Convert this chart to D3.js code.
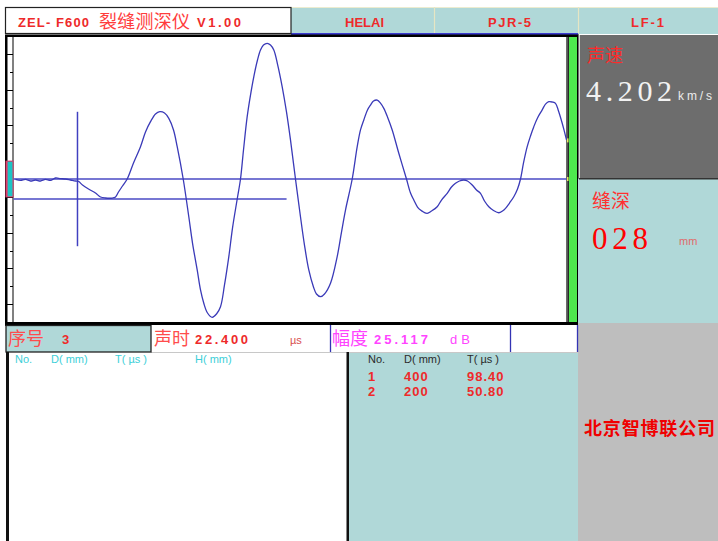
<!DOCTYPE html>
<html>
<head>
<meta charset="utf-8">
<script src="https://cdn.jsdelivr.net/npm/d3@7/dist/d3.min.js"></script>
<style>
  html, body { margin: 0; padding: 0; background: #ffffff; }
  svg { display: block; }
  text { font-family: "Liberation Sans", Arial, sans-serif; }
  text.cjk { font-family: "Noto Sans CJK SC", sans-serif; }
  text.serif { font-family: "Liberation Serif", "DejaVu Serif", serif; }
</style>
</head>
<body>
<svg id="scr" width="718" height="541"></svg>
<script>
// ---- received waveform (time in µs, amplitude in % of full scale) ----
const waveT = [0.70, 2.45, 4.20, 5.95, 7.70, 9.45, 11.20, 12.95, 14.70, 16.45, 18.20, 19.96, 21.71, 22.76,
  24.16, 26.26, 28.71, 30.46, 32.21, 34.66, 35.71, 36.76, 38.16, 39.80, 42.01, 44.46, 46.21, 47.96,
  49.71, 51.22, 52.87, 54.37, 56.02, 57.31, 59.41, 61.37, 62.67, 64.31, 65.47, 66.62, 67.92, 69.56,
  71.07, 72.47, 73.87, 75.38, 76.67, 78.32, 79.47, 80.52, 81.81, 82.97, 84.12, 85.42, 86.47, 87.52,
  88.82, 89.97, 91.13, 92.42, 94.07, 95.57, 96.97, 98.72, 100.47, 101.87, 103.38, 105.02, 106.07,
  107.48, 108.88, 110.98, 113.32, 114.83, 116.23, 118.58, 120.33, 121.48, 122.64, 123.93, 124.98,
  126.03, 127.33, 128.48, 129.64, 130.93, 132.58, 134.89, 137.58, 138.99, 140.14, 141.44, 142.49,
  143.54, 144.83, 146.34, 148.33, 149.84, 151.83, 153.34, 154.74, 156.14, 157.65, 158.94, 160.59,
  162.09, 163.49, 164.89, 166.40, 168.05, 169.90, 171.20, 172.25, 173.65, 175.15, 176.45, 177.50,
  178.55, 179.84, 181.00, 182.15, 183.45, 185.09, 186.25, 187.40, 188.70, 189.75, 190.80, 192.10,
  192.90, 193.60];
const waveA = [-0.3, -1.0, -0.3, -1.4, -0.7, -1.4, -0.3, -1.0, 0.7, 0.3, 0.0, -0.7, -1.4, -1.7,
  -4.2, -7.0, -9.8, -12.6, -13.3, -13.3, -12.6, -9.1, -4.9, 0.0, 11.2, 22.6, 32.9, 40.1,
  45.5, 47.1, 46.2, 42.4, 34.3, 22.6, 0.0, -26.4, -44.8, -63.6, -77.6, -86.9, -93.7, -96.7,
  -94.4, -89.3, -74.1, -54.3, -34.3, -14.0, 0.0, 20.3, 43.6, 58.7, 71.5, 83.2, 90.2, 93.7,
  94.9, 93.7, 90.2, 80.4, 64.5, 46.9, 27.3, 0.0, -26.4, -46.2, -63.6, -75.5, -80.4,
  -82.3, -80.4, -72.9, -54.3, -37.1, -21.7, 0.0, 22.6, 34.3, 41.3, 48.3, 51.7,
  54.5, 55.2, 53.1, 49.4, 43.4, 34.3, 18.0, 0.0, -9.8, -14.7, -19.6, -21.7,
  -23.1, -24.0, -22.4, -19.4, -14.7, -10.0, -5.6, -3.0, -1.4, -0.7, -1.4, -4.2,
  -7.7, -10.0, -15.4, -19.4, -22.0, -23.6, -22.4, -20.5, -16.8, -12.4, -7.0, 0.0,
  11.2, 22.6, 30.1, 36.6, 42.7, 48.3, 52.4, 54.1, 53.8, 52.9, 47.6, 39.0,
  32.9, 27.3];

// ---- screen readings ----
const timeSpan = [0, 193.6];        // µs across the trace window
const ampSpan = [-100, 100];        // % full scale
const ampTickStep = 12.5;
const cursorTime = 22.4;            // µs, first-arrival cursor
const cursorHalfHeight = 47;        // % full scale
const thresholdAmp = -14;           // trigger threshold
const thresholdEnd = 95.6;          // µs
const gateAmp = 12.5;               // gain marker half-width

const headerCells = ["HELAI", "PJR-5", "LF-1"];
const titleModel = "ZEL- F600";
const titleName = "裂缝测深仪";
const titleVersion = "V1.00";

const velocityLabel = "声速", velocityValue = "4.202", velocityUnit = "km/s";
const depthLabel = "缝深", depthValue = "028", depthUnit = "mm";

const recordLabel = "序号", recordNo = "3";
const timeLabel = "声时", timeValue = "22.400", timeUnit = "µs";
const ampLabel = "幅度", ampValue = "25.117", ampUnit = "dB";

const resultHeads = ["No.", "D( mm)", "T( µs )", "H( mm)"];
const calibHeads = ["No.", "D( mm)", "T( µs )"];
const calibNo = ["1", "2"];
const calibD = ["400", "200"];
const calibT = ["98.40", "50.80"];
const company = "北京智博联公司";

// ---- palette ----
const TEAL = "#b0d8d8", DARK = "#6d6d6d", LIGHT = "#bebebe";
const RED = "#ee2a2a", MAGENTA = "#ff44ff", BLUE = "#3a3ab8";

const svg = d3.select("#scr");
svg.append("rect").attr("width", 718).attr("height", 541).attr("fill", "#fff");

// ---------- title bar ----------
const bar = svg.append("g");
bar.append("rect").attr("x", 291).attr("y", 7).attr("width", 427).attr("height", 27).attr("fill", TEAL);
bar.append("line").attr("x1", 291).attr("x2", 718).attr("y1", 7.5).attr("y2", 7.5).attr("stroke", "#ececd0");
[434.5, 578.5].forEach(x => bar.append("line").attr("x1", x).attr("x2", x).attr("y1", 7).attr("y2", 33)
  .attr("stroke", "#e6e6c4").attr("stroke-width", 1.2));
bar.append("rect").attr("x", 291).attr("y", 33).attr("width", 287).attr("height", 2).attr("fill", "#3a3ad0");
bar.append("rect").attr("x", 5.5).attr("y", 7.5).attr("width", 285.5).attr("height", 26)
  .attr("fill", "#fff").attr("stroke", "#222").attr("stroke-width", 1.2);

const cellCenters = [364.5, 509.5, 647.5];
const cellWidths = [39, 43, 33];
headerCells.forEach((c, i) => {
  bar.append("text").attr("x", cellCenters[i]).attr("y", 26.5).attr("text-anchor", "middle")
    .attr("font-size", 13).attr("font-weight", "bold").attr("fill", RED)
    .attr("textLength", cellWidths[i]).attr("lengthAdjust", "spacing").text(c);
});
bar.append("text").attr("x", 18).attr("y", 26.5).attr("font-size", 13).attr("font-weight", "bold")
  .attr("fill", RED).attr("textLength", 71).attr("lengthAdjust", "spacing").text(titleModel);
bar.append("text").attr("class", "cjk").attr("x", 99).attr("y", 28).attr("font-size", 18)
  .attr("fill", "#ff3c3c").attr("textLength", 91).attr("lengthAdjust", "spacing").text(titleName);
bar.append("text").attr("x", 197).attr("y", 26.5).attr("font-size", 13).attr("font-weight", "bold")
  .attr("fill", RED).attr("textLength", 44).attr("lengthAdjust", "spacing").text(titleVersion);

// ---------- trace window ----------
const plot = { left: 13.5, right: 566.5, top: 36, bottom: 322 };
const x = d3.scaleLinear().domain(timeSpan).range([plot.left, plot.right]);
const y = d3.scaleLinear().domain(ampSpan).range([plot.bottom, plot.top]);

svg.append("rect").attr("x", 5).attr("y", 34.5).attr("width", 574).attr("height", 291.5).attr("fill", "#000");
svg.append("rect").attr("x", 7.5).attr("y", 37).attr("width", 5).attr("height", 285).attr("fill", "#fff");
svg.append("rect").attr("x", plot.left).attr("y", 37).attr("width", plot.right - plot.left).attr("height", 285).attr("fill", "#fff");
svg.append("rect").attr("x", 566.5).attr("y", 37).attr("width", 2).attr("height", 285).attr("fill", "#555");
svg.append("rect").attr("x", 569).attr("y", 37).attr("width", 8).attr("height", 285).attr("fill", "#4ee84e");

// amplitude ruler ticks, alternating long and short
const ampTicks = d3.range(ampSpan[0] + ampTickStep, ampSpan[1], ampTickStep);
svg.append("g").selectAll("line").data(ampTicks).join("line")
  .attr("x1", (d, i) => (i % 2 === 0 ? 7 : 10))
  .attr("x2", 13)
  .attr("y1", d => Math.round(y(d)) + 0.5).attr("y2", d => Math.round(y(d)) + 0.5)
  .attr("stroke", "#000").attr("stroke-width", 1);

// gain marker on the ruler
svg.append("rect").attr("x", 6).attr("y", y(gateAmp)).attr("width", 7).attr("height", y(-gateAmp) - y(gateAmp))
  .attr("fill", "#1cc4c4").attr("stroke", "#e03a6a").attr("stroke-width", 1);
svg.append("rect").attr("x", 6).attr("y", y(gateAmp)).attr("width", 1.6).attr("height", y(-gateAmp) - y(gateAmp))
  .attr("fill", "#e03a6a");

// zero line, threshold line and arrival cursor
svg.append("line").attr("x1", x(timeSpan[0])).attr("x2", x(timeSpan[1]))
  .attr("y1", y(0)).attr("y2", y(0)).attr("stroke", "#4a4ac4").attr("stroke-width", 1.5);
svg.append("line").attr("x1", x(timeSpan[0])).attr("x2", x(thresholdEnd))
  .attr("y1", y(thresholdAmp)).attr("y2", y(thresholdAmp)).attr("stroke", "#4a4ac4").attr("stroke-width", 1.5);
svg.append("line").attr("x1", x(cursorTime)).attr("x2", x(cursorTime))
  .attr("y1", y(cursorHalfHeight)).attr("y2", y(-cursorHalfHeight)).attr("stroke", "#4040c0").attr("stroke-width", 1.5);

// the waveform
const wave = waveT.map((t, i) => [t, waveA[i]]);
svg.append("path").datum(wave)
  .attr("d", d3.line().x(d => x(d[0])).y(d => y(d[1])).curve(d3.curveCatmullRom.alpha(0.5)))
  .attr("fill", "none").attr("stroke", BLUE).attr("stroke-width", 1.3);

// end-of-window markers
[y(0), y(27)].forEach(v => svg.append("rect").attr("x", 567).attr("y", v - 2).attr("width", 1.5).attr("height", 4).attr("fill", "#e8e860"));

// ---------- right readouts ----------
svg.append("rect").attr("x", 578).attr("y", 35).attr("width", 140).attr("height", 143.5).attr("fill", DARK);
svg.append("line").attr("x1", 579.5).attr("x2", 579.5).attr("y1", 35).attr("y2", 178).attr("stroke", "#d4d4d4");
svg.append("rect").attr("x", 578).attr("y", 178.5).attr("width", 140).attr("height", 145).attr("fill", TEAL);
svg.append("line").attr("x1", 579).attr("x2", 718).attr("y1", 178.8).attr("y2", 178.8).attr("stroke", "#333").attr("stroke-width", 1.4);
svg.append("rect").attr("x", 578).attr("y", 323).attr("width", 140).attr("height", 218).attr("fill", LIGHT);

svg.append("text").attr("class", "cjk").attr("x", 587).attr("y", 62).attr("font-size", 18)
  .attr("fill", "#ff2a2a").text(velocityLabel);
svg.append("text").attr("class", "serif").attr("x", 586).attr("y", 100.5).attr("font-size", 30)
  .attr("fill", "#f2f2f2")
  .attr("textLength", 86).attr("lengthAdjust", "spacing").text(velocityValue);
svg.append("text").attr("x", 678).attr("y", 100).attr("font-size", 12).attr("fill", "#ececec")
  .attr("textLength", 34).attr("lengthAdjust", "spacing").text(velocityUnit);

svg.append("text").attr("class", "cjk").attr("x", 592).attr("y", 208).attr("font-size", 19)
  .attr("fill", "#ff3030").text(depthLabel);
svg.append("text").attr("class", "serif").attr("x", 592).attr("y", 248.5).attr("font-size", 31)
  .attr("fill", "#ff0000")
  .attr("textLength", 56).attr("lengthAdjust", "spacing").text(depthValue);
svg.append("text").attr("x", 679).attr("y", 245).attr("font-size", 11).attr("fill", "#e06a6a").text(depthUnit);

// ---------- status row ----------
svg.append("rect").attr("x", 151).attr("y", 325).attr("width", 427).attr("height", 27).attr("fill", "#fff");
svg.append("line").attr("x1", 151).attr("x2", 578).attr("y1", 352.5).attr("y2", 352.5).attr("stroke", "#c8c8c8");
[330.5, 510.5, 577.5].forEach(v => svg.append("line").attr("x1", v).attr("x2", v).attr("y1", 325).attr("y2", 352)
  .attr("stroke", "#3434b4").attr("stroke-width", 1.3));
svg.append("rect").attr("x", 6).attr("y", 325.5).attr("width", 145).attr("height", 26.5)
  .attr("fill", TEAL).attr("stroke", "#222").attr("stroke-width", 1.3);

svg.append("text").attr("class", "cjk").attr("x", 8).attr("y", 345).attr("font-size", 18).attr("fill", "#ff4c4c").text(recordLabel);
svg.append("text").attr("x", 62).attr("y", 344).attr("font-size", 13).attr("font-weight", "bold").attr("fill", RED).text(recordNo);
svg.append("text").attr("class", "cjk").attr("x", 154).attr("y", 345).attr("font-size", 18).attr("fill", "#ff4c4c").text(timeLabel);
svg.append("text").attr("x", 195).attr("y", 344).attr("font-size", 13).attr("font-weight", "bold").attr("fill", RED)
  .attr("textLength", 53).attr("lengthAdjust", "spacing").text(timeValue);
svg.append("text").attr("x", 290).attr("y", 344).attr("font-size", 11).attr("fill", "#d85050").text(timeUnit);
svg.append("text").attr("class", "cjk").attr("x", 332).attr("y", 345).attr("font-size", 18).attr("fill", MAGENTA).text(ampLabel);
svg.append("text").attr("x", 374).attr("y", 344).attr("font-size", 13).attr("font-weight", "bold").attr("fill", MAGENTA)
  .attr("textLength", 54).attr("lengthAdjust", "spacing").text(ampValue);
svg.append("text").attr("x", 450).attr("y", 344).attr("font-size", 13).attr("fill", MAGENTA)
  .attr("textLength", 20).attr("lengthAdjust", "spacing").text(ampUnit);

// ---------- result tables ----------
svg.append("rect").attr("x", 349).attr("y", 353).attr("width", 229).attr("height", 188).attr("fill", TEAL);
svg.append("rect").attr("x", 6).attr("y", 352).attr("width", 3).attr("height", 189).attr("fill", "#111");
svg.append("rect").attr("x", 346.5).attr("y", 352).attr("width", 2.5).attr("height", 189).attr("fill", "#111");

const resultX = [15, 51, 115, 195];
resultHeads.forEach((h, i) => svg.append("text").attr("x", resultX[i]).attr("y", 363)
  .attr("font-size", 11).attr("fill", "#3ccfd8").text(h));

const calibX = [368, 404, 467];
calibHeads.forEach((h, i) => svg.append("text").attr("x", calibX[i]).attr("y", 363)
  .attr("font-size", 11).attr("fill", "#2a2a2a").text(h));
const rowY = [381, 396];
[calibNo, calibD, calibT].forEach((col, c) => col.forEach((v, r) =>
  svg.append("text").attr("x", calibX[c]).attr("y", rowY[r]).attr("font-size", 13)
    .attr("font-weight", "bold").attr("fill", RED).attr("letter-spacing", 1).text(v)));

svg.append("text").attr("class", "cjk").attr("x", 584).attr("y", 435).attr("font-size", 18)
  .attr("font-weight", "bold").attr("fill", "#f00000")
  .attr("textLength", 131).attr("lengthAdjust", "spacing").text(company);
</script>
</body>
</html>
